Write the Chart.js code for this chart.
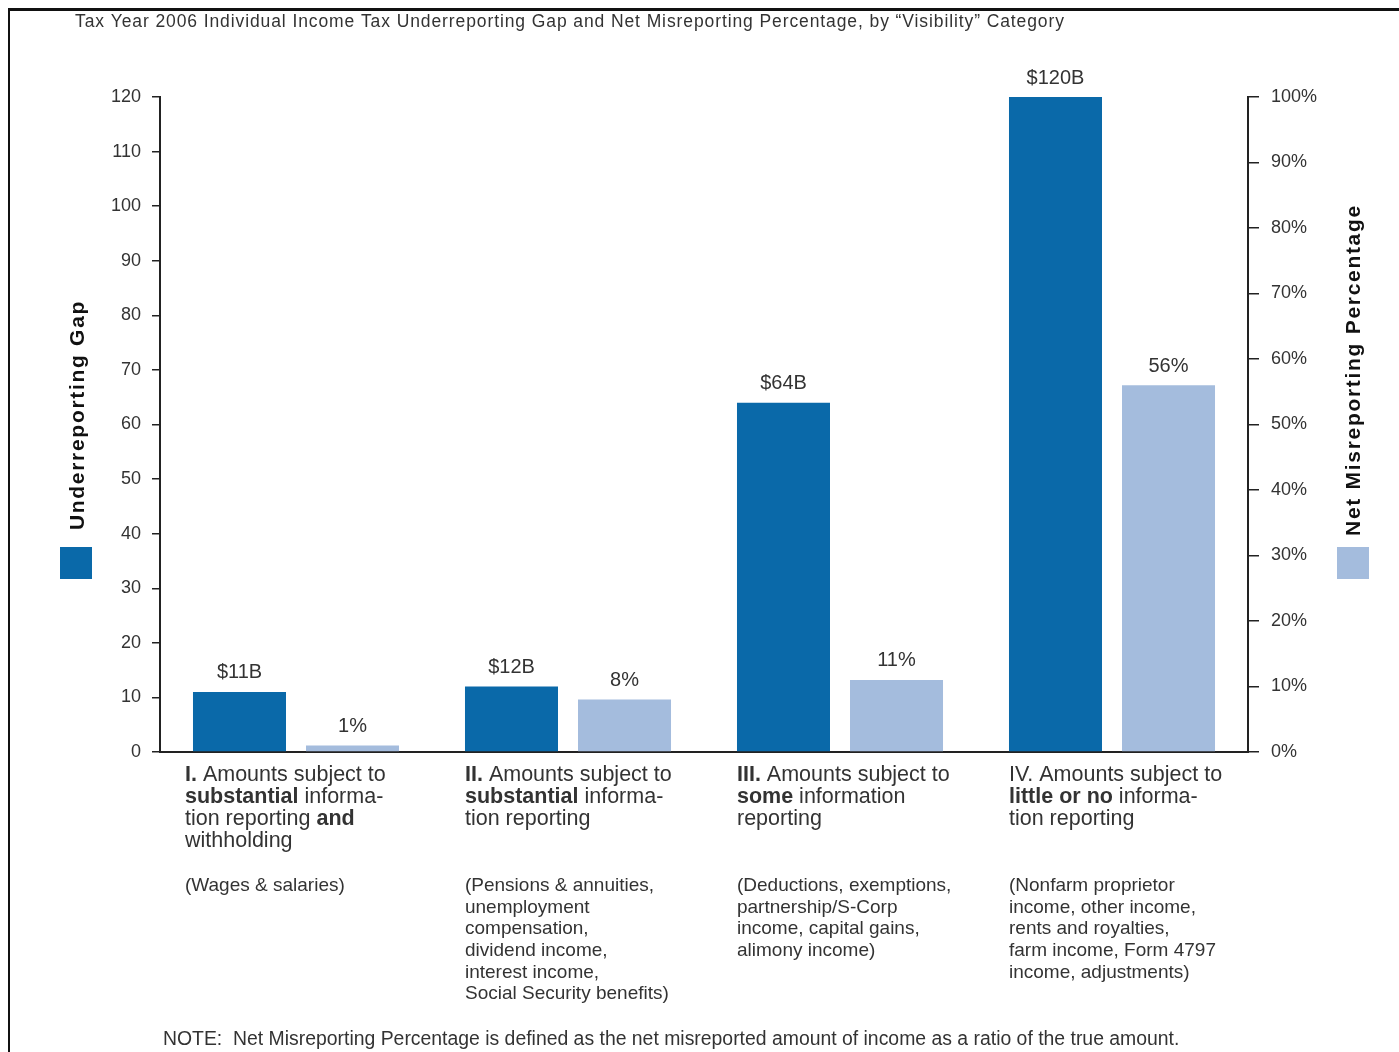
<!DOCTYPE html>
<html>
<head>
<meta charset="utf-8">
<script src="https://cdn.jsdelivr.net/npm/chart.js@4"></script>
<style>
  body { margin: 0; background: #fff; }
  #wrap { position: relative; width: 1399px; height: 1052px; overflow: hidden; }
  #frame { position: absolute; left: 8px; top: 8px; width: 1500px; height: 1200px;
           border-top: 3px solid #111; border-left: 2px solid #111; }
  #chart { position: absolute; left: 0; top: 0; }
</style>
</head>
<body>
<div id="wrap">
  <div id="frame"></div>
  <canvas id="chart" width="1399" height="1052"></canvas>
</div>
<script>
const TITLE = 'Tax Year 2006 Individual Income Tax Underreporting Gap and Net Misreporting Percentage, by \u201cVisibility\u201d Category';
const NOTE = 'NOTE:  Net Misreporting Percentage is defined as the net misreported amount of income as a ratio of the true amount.';
const LEFT_TITLE = 'Underreporting Gap';
const RIGHT_TITLE = 'Net Misreporting Percentage';

const categories = ['I', 'II', 'III', 'IV'];
const gapBillions = [11, 12, 64, 120];
const misreportPct = [1, 8, 11, 56];

// ** marks bold runs
const headings = [
  ['**I.** Amounts subject to', '**substantial** informa-', 'tion reporting **and**', 'withholding'],
  ['**II.** Amounts subject to', '**substantial** informa-', 'tion reporting'],
  ['**III.** Amounts subject to', '**some** information', 'reporting'],
  ['IV. Amounts subject to', '**little or no** informa-', 'tion reporting'],
];
const examples = [
  ['(Wages & salaries)'],
  ['(Pensions & annuities,', 'unemployment', 'compensation,', 'dividend income,', 'interest income,', 'Social Security benefits)'],
  ['(Deductions, exemptions,', 'partnership/S-Corp', 'income, capital gains,', 'alimony income)'],
  ['(Nonfarm proprietor', 'income, other income,', 'rents and royalties,', 'farm income, Form 4797', 'income, adjustments)'],
];

const FONT = '"Liberation Sans", Arial, sans-serif';
const DARK = '#0a69a9';
const LIGHT = '#a4bcdd';
const TEXT = '#333';
const AXIS = '#222';
const colNudge = [-8, 0, 0, 0];

function drawRich(c, line, x, y, size) {
  line.split('**').forEach((part, k) => {
    c.font = (k % 2 ? 'bold ' : '') + size + 'px ' + FONT;
    c.fillText(part, x, y);
    x += c.measureText(part).width;
  });
}

const textPlugin = {
  id: 'textPlugin',
  afterDraw(chart) {
    const c = chart.ctx;
    c.save();
    c.fillStyle = TEXT;
    c.textBaseline = 'middle';

    // title and note
    c.textAlign = 'left';
    c.font = '17.5px ' + FONT;
    c.letterSpacing = '0.9px';
    c.fillText(TITLE, 75, 22);
    c.font = '19.4px ' + FONT;
    c.letterSpacing = '0px';
    c.fillText(NOTE, 163, 1040);

    // value labels above bars
    c.textAlign = 'center';
    c.font = '20px ' + FONT;
    chart.data.datasets.forEach((ds, d) => {
      chart.getDatasetMeta(d).data.forEach((bar, i) => {
        c.fillText(ds.fmt(ds.data[i]), bar.x, bar.y - 19);
      });
    });

    // category text under the axis
    c.textAlign = 'left';
    const dark = chart.getDatasetMeta(0).data;
    categories.forEach((cat, i) => {
      const left = dark[i].x - dark[i].width / 2 + colNudge[i];
      headings[i].forEach((line, k) => drawRich(c, line, left, 775 + k * 22, 21.5));
      c.font = '19px ' + FONT;
      examples[i].forEach((line, k) => c.fillText(line, left, 886 + k * 21.6));
    });

    // axis titles with colour keys
    c.fillStyle = '#111';
    c.font = 'bold 21px ' + FONT;
    c.letterSpacing = '1.7px';
    c.textAlign = 'center';
    c.save();
    c.translate(78, 415);
    c.rotate(-Math.PI / 2);
    c.fillText(LEFT_TITLE, 0, 0);
    c.restore();
    c.save();
    c.translate(1354, 370);
    c.rotate(-Math.PI / 2);
    c.fillText(RIGHT_TITLE, 0, 0);
    c.restore();
    c.fillStyle = DARK;
    c.fillRect(60, 547, 32, 32);
    c.fillStyle = LIGHT;
    c.fillRect(1337, 547, 32, 32);
    c.restore();
  },
};

new Chart(document.getElementById('chart'), {
  type: 'bar',
  data: {
    labels: categories,
    datasets: [
      {
        label: LEFT_TITLE,
        data: gapBillions,
        backgroundColor: DARK,
        yAxisID: 'y',
        fmt: (v) => '$' + v + 'B',
      },
      {
        label: RIGHT_TITLE,
        data: misreportPct,
        backgroundColor: LIGHT,
        yAxisID: 'y1',
        fmt: (v) => v + '%',
      },
    ],
  },
  options: {
    responsive: false,
    animation: false,
    layout: { padding: { top: 97, bottom: 300, left: 0, right: 0 } },
    datasets: { bar: { barPercentage: 0.823, categoryPercentage: 0.831 } },
    plugins: { legend: { display: false }, tooltip: { enabled: false } },
    scales: {
      x: {
        ticks: { display: false },
        grid: { display: false, drawTicks: false },
        border: { color: AXIS, width: 2 },
        afterFit: (s) => { s.height = 0; },
      },
      y: {
        position: 'left',
        min: 0,
        max: 120,
        ticks: { stepSize: 10, padding: 11, color: TEXT, font: { family: FONT, size: 18 } },
        grid: { drawOnChartArea: false, tickLength: 8, color: AXIS, lineWidth: 1.5 },
        border: { color: AXIS, width: 2 },
        afterFit: (s) => { s.width = 160; },
      },
      y1: {
        position: 'right',
        min: 0,
        max: 100,
        ticks: {
          stepSize: 10,
          padding: 12,
          color: TEXT,
          font: { family: FONT, size: 18 },
          callback: (v) => v + '%',
        },
        grid: { drawOnChartArea: false, tickLength: 11, color: AXIS, lineWidth: 1.5 },
        border: { color: AXIS, width: 2 },
        afterFit: (s) => { s.width = 151; },
      },
    },
  },
  plugins: [textPlugin],
});
</script>
</body>
</html>
